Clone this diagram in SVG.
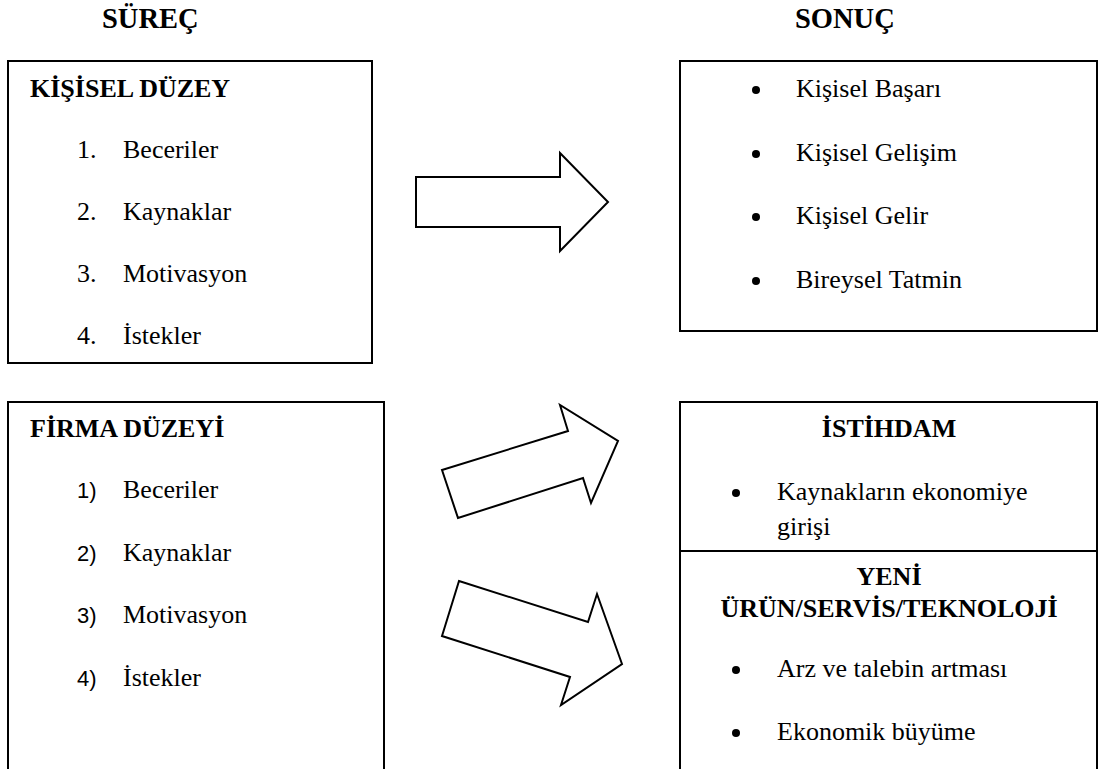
<svg xmlns="http://www.w3.org/2000/svg" width="1099" height="769" viewBox="0 0 1099 769">
<style>
text{font-family:"Liberation Serif","Times New Roman",serif;font-size:26px;fill:#000}
.b{font-weight:bold}
.h{font-size:28.5px}
.n{font-family:"Liberation Sans",Arial,sans-serif;font-size:22px}
.m{text-anchor:middle}
.box{fill:#fff;stroke:#000;stroke-width:2}
.arr{fill:#fff;stroke:#000;stroke-width:2;stroke-linejoin:miter}
</style>
<rect width="1099" height="769" fill="#fff"/>
<text class="b h" x="102" y="28">SÜREÇ</text>
<text class="b h" x="795" y="28">SONUÇ</text>

<g id="kisisel">
<rect class="box" x="8" y="61" width="364" height="302"/>
<text class="b" x="30" y="97">KİŞİSEL DÜZEY</text>
<text x="77" y="158">1.</text><text x="123" y="158">Beceriler</text>
<text x="77" y="220">2.</text><text x="123" y="220">Kaynaklar</text>
<text x="77" y="282">3.</text><text x="123" y="282">Motivasyon</text>
<text x="77" y="344">4.</text><text x="123" y="344">İstekler</text>
</g>

<g id="firma">
<rect class="box" x="8" y="402" width="376" height="420"/>
<text class="b" x="30" y="437">FİRMA DÜZEYİ</text>
<text class="n" x="77" y="498">1)</text><text x="123" y="498">Beceriler</text>
<text class="n" x="77" y="561">2)</text><text x="123" y="561">Kaynaklar</text>
<text class="n" x="77" y="623">3)</text><text x="123" y="623">Motivasyon</text>
<text class="n" x="77" y="686">4)</text><text x="123" y="686">İstekler</text>
</g>

<g id="sonuc-kisisel">
<rect class="box" x="680" y="61" width="417" height="270"/>
<circle cx="756" cy="90" r="4"/><text x="796" y="97">Kişisel Başarı</text>
<circle cx="756" cy="154" r="4"/><text x="796" y="161">Kişisel Gelişim</text>
<circle cx="756" cy="217" r="4"/><text x="796" y="224">Kişisel Gelir</text>
<circle cx="756" cy="281" r="4"/><text x="796" y="288">Bireysel Tatmin</text>
</g>

<g id="sonuc-firma">
<rect class="box" x="680" y="402" width="417" height="420"/>
<line x1="680" y1="551" x2="1097" y2="551" stroke="#000" stroke-width="2"/>
<text class="b m" x="889" y="437">İSTİHDAM</text>
<circle cx="736" cy="493" r="4"/><text x="777" y="500">Kaynakların ekonomiye</text>
<text x="777" y="535">girişi</text>
<text class="b m" x="889" y="585">YENİ</text>
<text class="b m" x="889" y="617">ÜRÜN/SERVİS/TEKNOLOJİ</text>
<circle cx="736" cy="670" r="4"/><text x="777" y="677">Arz ve talebin artması</text>
<circle cx="736" cy="733" r="4"/><text x="777" y="740">Ekonomik büyüme</text>
</g>

<g id="connectors">
<polygon class="arr" points="416,177 560,177 560,153 608,202 560,251 560,227 416,227"/>
<polygon class="arr" points="442,470 568,431 560,405 618,441 591,503 583,478 458,518"/>
<polygon class="arr" points="459,581 588,622 597,594 622,664 561,705 570,677 442,636"/>
</g>
</svg>
